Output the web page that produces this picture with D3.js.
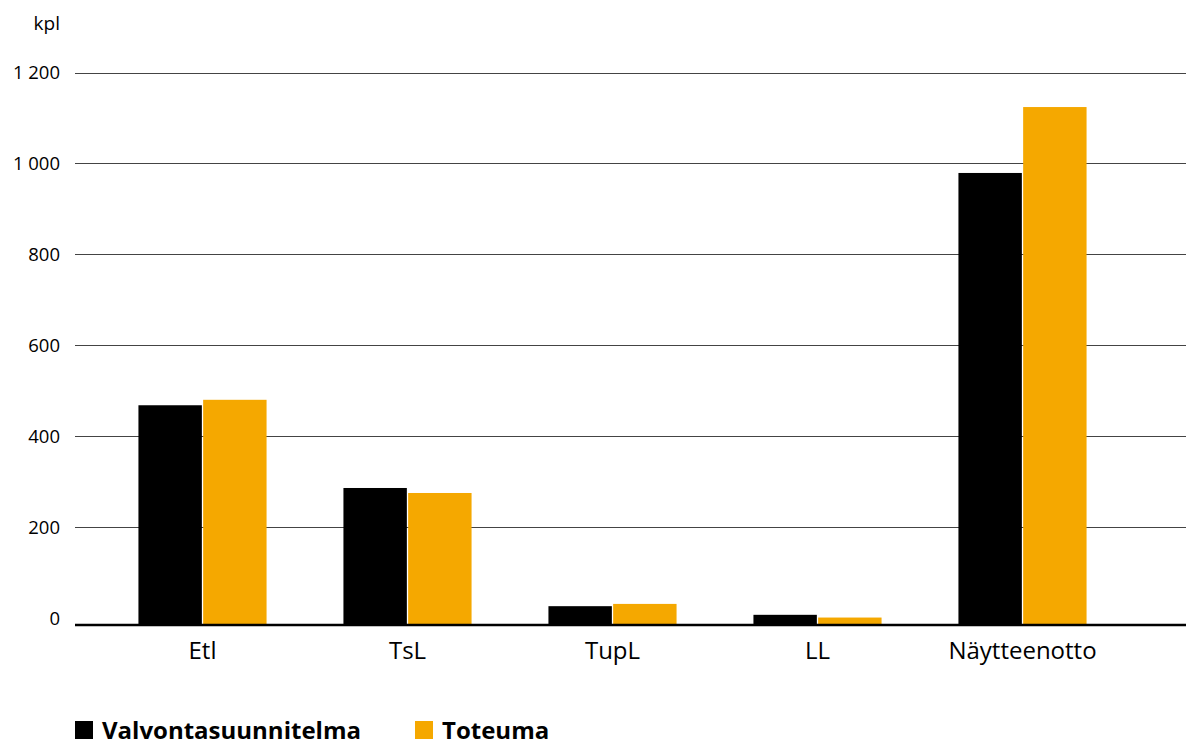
<!DOCTYPE html>
<html><head><meta charset="utf-8">
<script src="https://cdn.jsdelivr.net/npm/d3@7"></script>
<style>body{margin:0;background:#fff}svg{display:block}text{font-family:"Open Sans",sans-serif;fill:#000}</style>
</head><body><svg id="c" width="1186" height="739"></svg>
<script>
const categories = ["Etl","TsL","TupL","LL","Näytteenotto"];
const seriesNames = ["Valvontasuunnitelma","Toteuma"];
const valvonta = [468, 286, 26, 7, 979];
const toteuma = [480, 275, 31, 1, 1124];
const yTicks = [0,200,400,600,800,1000,1200];
const yTickLabels = ["0","200","400","600","800","1 000","1 200"];
const colors = ["#000000","#f5a800"];
const unitLabel = "kpl";

const svg = d3.select("#c");
const y = d3.scaleLinear().domain([0,1200]).range([618,72.5]);
const x = d3.scaleBand().domain(categories).range([100,1125]).paddingInner(0.375).paddingOuter(0.1875);
const xs = d3.scaleBand().domain(seriesNames).range([0,x.bandwidth()]).paddingInner(0.02);
const baseY = y(0) + 7;

// gridlines
svg.append("g").selectAll("line").data(yTicks.filter(t=>t>0)).join("line")
  .attr("x1",75).attr("x2",1186).attr("y1",d=>Math.round(y(d))+0.5).attr("y2",d=>Math.round(y(d))+0.5)
  .attr("stroke","#444").attr("stroke-width",1);

// y labels
svg.append("g").selectAll("text").data(yTicks).join("text")
  .attr("x",60).attr("y",d=>y(d)).attr("dy","0.36em").attr("text-anchor","end")
  .style("font-size","18.5px").text((d,i)=>yTickLabels[i]);
svg.append("text").attr("x",60).attr("y",23).attr("dy","0.36em").attr("text-anchor","end")
  .style("font-size","19px").text(unitLabel);

// bars
const data = categories.map((c,i)=>({c, vals:[valvonta[i],toteuma[i]]}));
const g = svg.append("g").selectAll("g").data(data).join("g").attr("transform",d=>`translate(${x(d.c)},0)`);
g.selectAll("rect").data(d=>d.vals.map((v,j)=>({v,s:seriesNames[j],j}))).join("rect")
  .attr("x",d=>xs(d.s)).attr("width",xs.bandwidth())
  .attr("y",d=>y(d.v)).attr("height",d=>baseY-y(d.v)).attr("fill",d=>colors[d.j]);

// baseline
svg.append("line").attr("x1",75).attr("x2",1186).attr("y1",baseY).attr("y2",baseY).attr("stroke","#000").attr("stroke-width",2.5);

// x labels
svg.append("g").selectAll("text").data(categories).join("text")
  .attr("x",d=>x(d)+x.bandwidth()/2).attr("y",650).attr("dy","0.36em").attr("text-anchor","middle")
  .style("font-size","24px").text(d=>d);

// legend
const legX = [75, 415];
const lg = svg.append("g").selectAll("g").data(seriesNames).join("g").attr("transform",(d,i)=>`translate(${legX[i]},721)`);
lg.append("rect").attr("width",18).attr("height",18).attr("fill",(d,i)=>colors[i]);
lg.append("text").attr("x",27).attr("y",18).style("font-size","24px").style("font-weight","bold").text(d=>d);
</script></body></html>
